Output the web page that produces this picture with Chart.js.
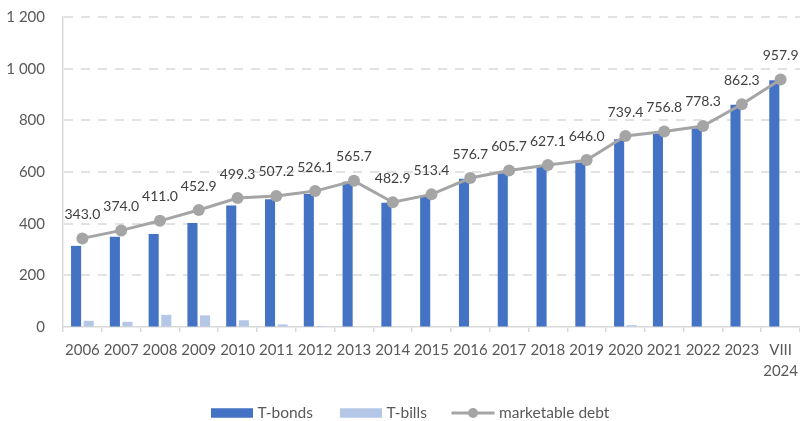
<!DOCTYPE html>
<html>
<head>
<meta charset="utf-8">
<script src="https://cdn.jsdelivr.net/npm/chart.js@4.4.1/dist/chart.umd.min.js"></script>
<style>
  html, body { margin: 0; padding: 0; background: #ffffff; }
  #wrap { width: 800px; height: 421px; position: relative; }
</style>
</head>
<body>
<div id="wrap"><canvas id="c" width="800" height="421"></canvas></div>
<script>
// ---- data ----
const categories = ['2006','2007','2008','2009','2010','2011','2012','2013','2014','2015','2016','2017','2018','2019','2020','2021','2022','2023',['VIII','2024']];
const tBonds = [314, 349, 360, 403, 470, 495, 515, 562, 481, 511, 574, 595, 620, 637, 727, 750, 769, 860, 955];
const tBills = [24, 20, 47, 45, 26, 10, 4, 0, 0, 0, 0, 0, 0, 0, 7, 0, 0, 0, 0];
const marketableDebt = [343.0, 374.0, 411.0, 452.9, 499.3, 507.2, 526.1, 565.7, 482.9, 513.4, 576.7, 605.7, 627.1, 646.0, 739.4, 756.8, 778.3, 862.3, 957.9];
const yTicks = [0, 200, 400, 600, 800, 1000, 1200];
const seriesNames = ['T-bonds', 'T-bills', 'marketable debt'];

const FONT = 'Lato, "Open Sans", sans-serif';
const TEXT = '#595959';
const GRID = '#d9d9d9';
const C_BONDS = '#4472c4';
const C_BILLS = '#b4c7e7';
const C_LINE = '#a5a5a5';

function fmtThousands(v) {
  return String(v).replace(/\B(?=(\d{3})+(?!\d))/g, ' ');
}

// dashed horizontal gridlines, drawn from the y scale's own tick pixels
const dashedGridPlugin = {
  id: 'dashedGrid',
  beforeDatasetsDraw(chart) {
    const ctx = chart.ctx;
    const y = chart.scales.y;
    const area = chart.chartArea;
    ctx.save();
    ctx.strokeStyle = GRID;
    ctx.lineWidth = 1.6;
    ctx.lineCap = 'butt';
    ctx.setLineDash([9, 8]);
    ctx.lineDashOffset = 0;
    y.ticks.forEach(t => {
      if (t.value === 0) return;
      const py = Math.round(y.getPixelForValue(t.value));
      ctx.beginPath();
      ctx.moveTo(area.left + 1, py);
      ctx.lineTo(area.right, py);
      ctx.stroke();
    });
    ctx.restore();
  }
};

const dataLabelPlugin = {
  id: 'dataLabels',
  afterDatasetsDraw(chart) {
    const ctx = chart.ctx;
    const idx = chart.data.datasets.findIndex(d => d.type === 'line');
    const meta = chart.getDatasetMeta(idx);
    ctx.save();
    ctx.font = '14px ' + FONT;
    ctx.fillStyle = '#404040';
    ctx.textAlign = 'center';
    ctx.textBaseline = 'middle';
    meta.data.forEach((pt, i) => {
      ctx.fillText(marketableDebt[i].toFixed(1), pt.x, pt.y - 24);
    });
    ctx.restore();
  }
};

const legendPlugin = {
  id: 'customLegend',
  afterDraw(chart) {
    const ctx = chart.ctx;
    ctx.save();
    ctx.font = '15.5px ' + FONT;
    const y = 413;
    const boxW = 42, boxH = 9.5, textGap = 4.5;
    const starts = [211, 340, 451.5];
    ctx.textBaseline = 'middle';
    ctx.textAlign = 'left';
    // T-bonds
    ctx.fillStyle = C_BONDS;
    ctx.fillRect(starts[0], y - boxH / 2, boxW, boxH);
    ctx.fillStyle = TEXT;
    ctx.fillText(seriesNames[0], starts[0] + boxW + textGap, y);
    // T-bills
    ctx.fillStyle = C_BILLS;
    ctx.fillRect(starts[1], y - boxH / 2, boxW, boxH);
    ctx.fillStyle = TEXT;
    ctx.fillText(seriesNames[1], starts[1] + boxW + textGap, y);
    // marketable debt
    const x = starts[2];
    ctx.strokeStyle = C_LINE;
    ctx.lineWidth = 3;
    ctx.beginPath();
    ctx.moveTo(x, y);
    ctx.lineTo(x + 43, y);
    ctx.stroke();
    ctx.fillStyle = C_LINE;
    ctx.beginPath();
    ctx.arc(x + 21.5, y, 5, 0, Math.PI * 2);
    ctx.fill();
    ctx.fillStyle = TEXT;
    ctx.fillText(seriesNames[2], x + 43 + textGap, y);
    ctx.restore();
  }
};

new Chart(document.getElementById('c'), {
  data: {
    labels: categories,
    datasets: [
      {
        type: 'line',
        label: seriesNames[2],
        data: marketableDebt,
        borderColor: C_LINE,
        backgroundColor: C_LINE,
        borderWidth: 3,
        pointRadius: 6,
        pointBorderWidth: 0,
        pointBackgroundColor: C_LINE,
        tension: 0,
        clip: false,
        order: 0
      },
      {
        type: 'bar',
        label: seriesNames[0],
        data: tBonds,
        backgroundColor: C_BONDS,
        categoryPercentage: 0.65,
        barPercentage: 0.8,
        order: 1
      },
      {
        type: 'bar',
        label: seriesNames[1],
        data: tBills,
        backgroundColor: C_BILLS,
        categoryPercentage: 0.65,
        barPercentage: 0.8,
        order: 1
      }
    ]
  },
  options: {
    responsive: false,
    animation: false,
    devicePixelRatio: 1,
    layout: { autoPadding: false, padding: { top: 17, right: 0, bottom: 0, left: 0 } },
    plugins: {
      legend: { display: false },
      tooltip: { enabled: false }
    },
    scales: {
      x: {
        offset: true,
        afterFit(s) { s.height = 94; s.paddingLeft = 0; s.paddingRight = 0; },
        grid: {
          display: true,
          offset: true,
          drawOnChartArea: false,
          drawTicks: true,
          tickLength: 5,
          color: GRID,
          lineWidth: 1.5
        },
        border: { display: true, color: GRID, width: 1.5 },
        ticks: {
          color: TEXT,
          font: { family: FONT, size: 15, lineHeight: 1.4 },
          padding: 8,
          maxRotation: 0,
          autoSkip: false
        }
      },
      y: {
        min: 0,
        max: 1200,
        afterFit(s) { s.width = 63; s.paddingTop = 0; s.paddingBottom = 0; },
        afterBuildTicks(s) { s.ticks = yTicks.map(v => ({ value: v })); },
        grid: {
          display: true,
          drawOnChartArea: false,
          drawTicks: false
        },
        border: { display: true, color: GRID, width: 1.5 },
        ticks: {
          color: TEXT,
          font: { family: FONT, size: 15 },
          padding: 18,
          callback: v => fmtThousands(v)
        }
      }
    }
  },
  plugins: [dashedGridPlugin, dataLabelPlugin, legendPlugin]
});
</script>
</body>
</html>
